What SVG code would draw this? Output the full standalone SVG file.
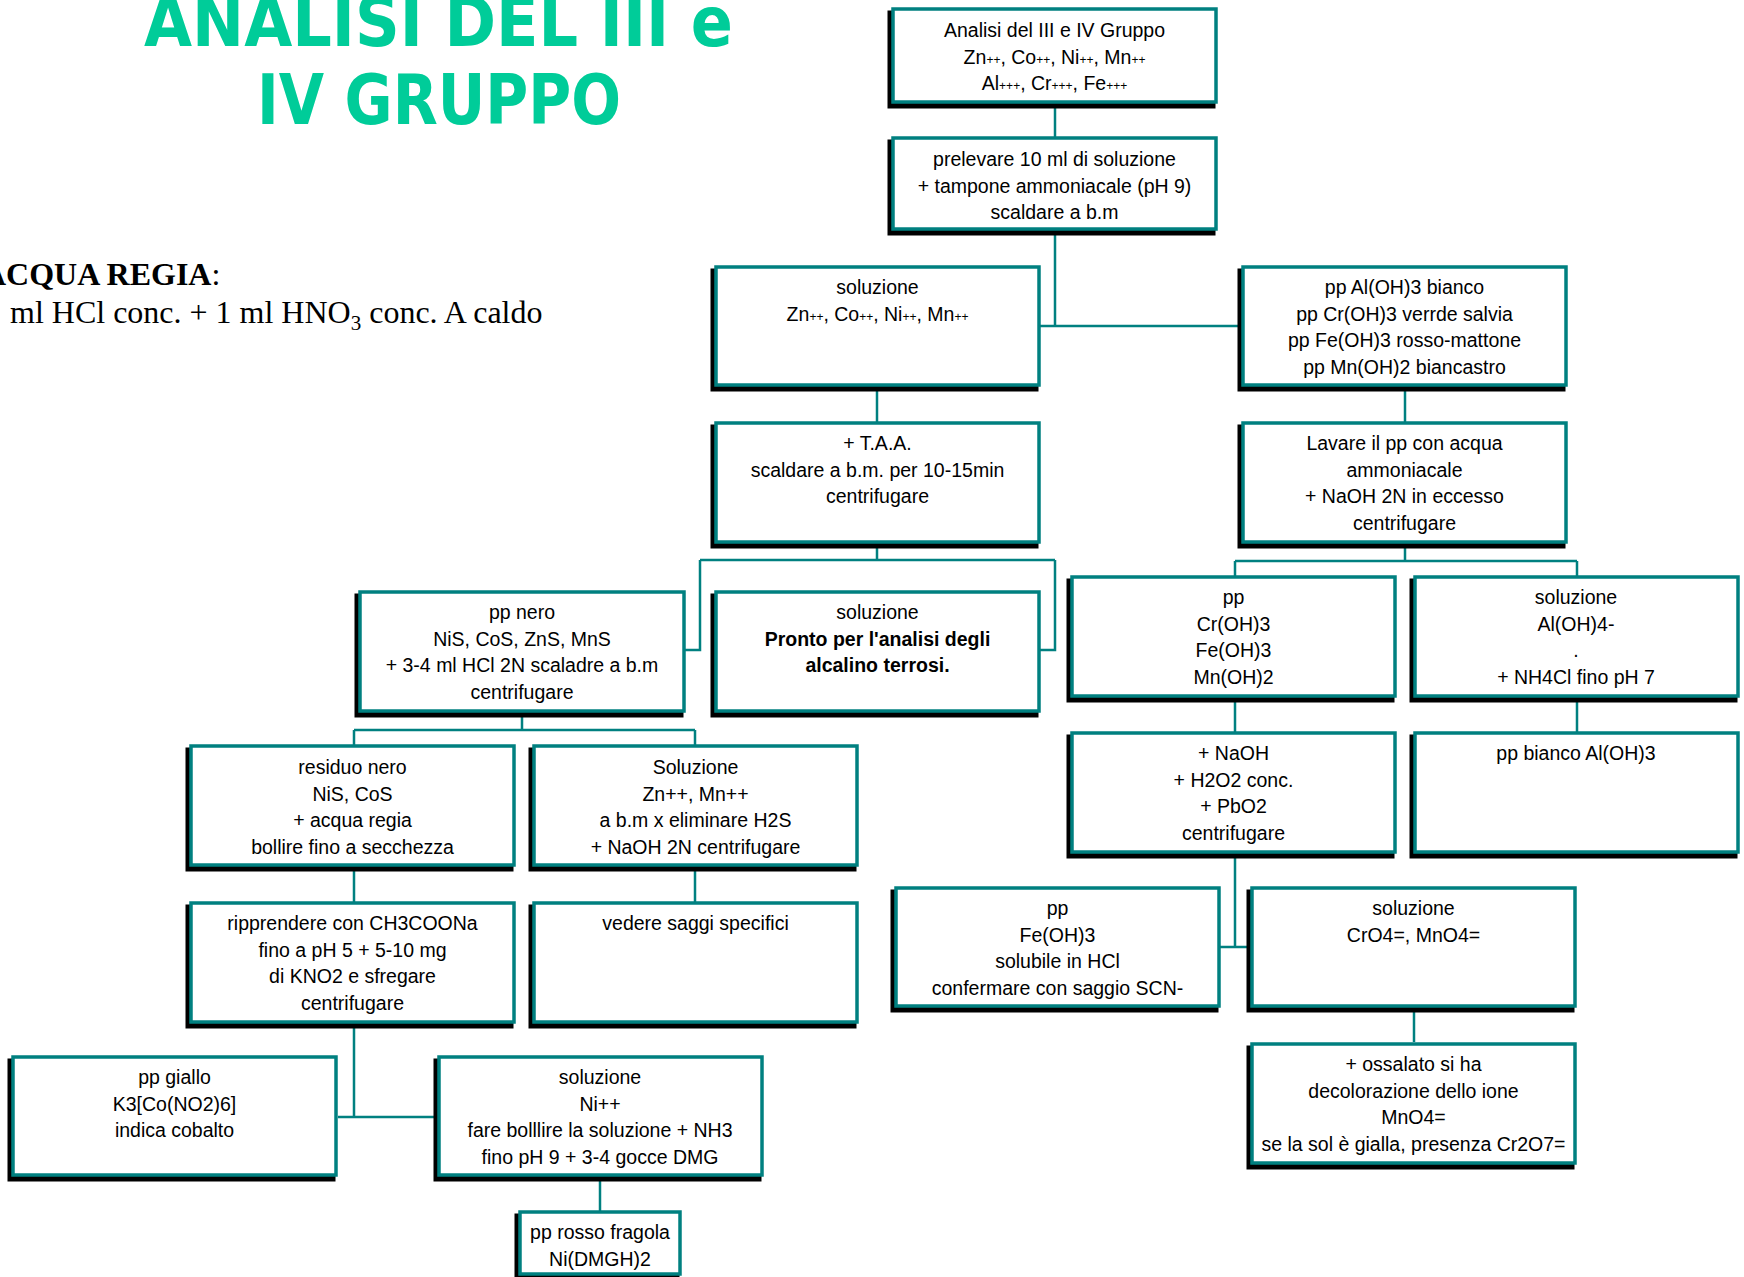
<svg xmlns="http://www.w3.org/2000/svg" width="1744" height="1277" viewBox="0 0 1744 1277">
<style>
.sh{fill:#000;stroke:#000;stroke-width:3}
.bx{fill:#fff;stroke:#008080;stroke-width:3.5}
.t{font-family:"Liberation Sans",Arial,sans-serif;font-size:19.5px;fill:#000;text-anchor:middle}
.s{font-size:12px}
.b{font-weight:bold}
.ln{fill:none;stroke:#008080;stroke-width:2.5}
.title{font-family:"DejaVu Sans",Verdana,sans-serif;font-weight:bold;font-size:70px;fill:#00CC99}
.tm{font-family:"Liberation Serif","Times New Roman",serif;font-size:32px;fill:#000}
</style>
<rect x="0" y="0" width="1744" height="1277" fill="#fff"/>
<g id="title">
<text class="title" x="144" y="46" textLength="589" lengthAdjust="spacingAndGlyphs">ANALISI DEL III e</text>
<text class="title" x="257" y="124" textLength="364" lengthAdjust="spacingAndGlyphs">IV GRUPPO</text>
</g>
<g id="note">
<text class="tm" x="-17" y="285"><tspan font-weight="bold">ACQUA REGIA</tspan>:</text>
<text class="tm" x="10" y="323">ml HCl conc. + 1 ml HNO<tspan font-size="21" dy="7">3</tspan><tspan dy="-7"> conc. A caldo</tspan></text>
</g>
<g id="connectors">
<path class="ln" d="M1055 103V137"/>
<path class="ln" d="M1055 230V326M1040 326H1242"/>
<path class="ln" d="M877 386V422"/>
<path class="ln" d="M1405 386V422"/>
<path class="ln" d="M877 543V560M700 560H1055M700 560V650H685M1055 560V650H1040"/>
<path class="ln" d="M1405 543V561M1235 561H1577M1235 561V576M1577 561V576"/>
<path class="ln" d="M1235 697V732M1577 697V732"/>
<path class="ln" d="M522 712V730M354 730H695M354 730V745M695 730V745"/>
<path class="ln" d="M354 867V902M695 867V902"/>
<path class="ln" d="M354 1023V1117M338 1117H438"/>
<path class="ln" d="M600 1176V1211"/>
<path class="ln" d="M1235 853V947M1220 947H1252"/>
<path class="ln" d="M1414 1007V1042"/>
</g>
<g id="n-analisi">
<rect class="sh" x="889" y="12" width="325" height="95"/>
<rect class="bx" x="893" y="9" width="323" height="93"/>
<text class="t"><tspan x="1054.5" y="37">Analisi del III e IV Gruppo</tspan><tspan x="1054.5" y="63.5">Zn<tspan class="s">++</tspan>, Co<tspan class="s">++</tspan>, Ni<tspan class="s">++</tspan>, Mn<tspan class="s">++</tspan></tspan><tspan x="1054.5" y="90">Al<tspan class="s">+++</tspan>, Cr<tspan class="s">+++</tspan>, Fe<tspan class="s">+++</tspan></tspan></text>
</g>
<g id="n-prelevare">
<rect class="sh" x="889" y="141" width="325" height="93"/>
<rect class="bx" x="893" y="138" width="323" height="91"/>
<text class="t"><tspan x="1054.5" y="166">prelevare 10 ml di soluzione</tspan><tspan x="1054.5" y="192.5">+ tampone ammoniacale (pH 9)</tspan><tspan x="1054.5" y="219">scaldare a b.m</tspan></text>
</g>
<g id="n-sol1">
<rect class="sh" x="712" y="270" width="325" height="120"/>
<rect class="bx" x="716" y="267" width="323" height="118"/>
<text class="t"><tspan x="877.5" y="294">soluzione</tspan><tspan x="877.5" y="320.5">Zn<tspan class="s">++</tspan>, Co<tspan class="s">++</tspan>, Ni<tspan class="s">++</tspan>, Mn<tspan class="s">++</tspan></tspan></text>
</g>
<g id="n-pp1">
<rect class="sh" x="1239" y="270" width="325" height="120"/>
<rect class="bx" x="1243" y="267" width="323" height="118"/>
<text class="t"><tspan x="1404.5" y="294">pp Al(OH)3 bianco</tspan><tspan x="1404.5" y="320.5">pp Cr(OH)3 verrde salvia</tspan><tspan x="1404.5" y="347">pp Fe(OH)3 rosso-mattone</tspan><tspan x="1404.5" y="373.5">pp Mn(OH)2 biancastro</tspan></text>
</g>
<g id="n-taa">
<rect class="sh" x="712" y="426" width="325" height="121"/>
<rect class="bx" x="716" y="423" width="323" height="119"/>
<text class="t"><tspan x="877.5" y="450">+ T.A.A.</tspan><tspan x="877.5" y="476.5">scaldare a b.m. per 10-15min</tspan><tspan x="877.5" y="503">centrifugare</tspan></text>
</g>
<g id="n-lavare">
<rect class="sh" x="1239" y="426" width="325" height="121"/>
<rect class="bx" x="1243" y="423" width="323" height="119"/>
<text class="t"><tspan x="1404.5" y="450">Lavare il pp con acqua</tspan><tspan x="1404.5" y="476.5">ammoniacale</tspan><tspan x="1404.5" y="503">+ NaOH 2N in eccesso</tspan><tspan x="1404.5" y="529.5">centrifugare</tspan></text>
</g>
<g id="n-ppnero">
<rect class="sh" x="356" y="595" width="326" height="121"/>
<rect class="bx" x="360" y="592" width="324" height="119"/>
<text class="t"><tspan x="522" y="619">pp nero</tspan><tspan x="522" y="645.5">NiS, CoS, ZnS, MnS</tspan><tspan x="522" y="672">+ 3-4 ml HCl 2N scaladre a b.m</tspan><tspan x="522" y="698.5">centrifugare</tspan></text>
</g>
<g id="n-pronto">
<rect class="sh" x="712" y="595" width="325" height="121"/>
<rect class="bx" x="716" y="592" width="323" height="119"/>
<text class="t"><tspan x="877.5" y="619">soluzione</tspan><tspan class="b" x="877.5" y="645.5">Pronto per l'analisi degli</tspan><tspan class="b" x="877.5" y="672">alcalino terrosi.</tspan></text>
</g>
<g id="n-ppcr">
<rect class="sh" x="1068" y="580" width="325" height="121"/>
<rect class="bx" x="1072" y="577" width="323" height="119"/>
<text class="t"><tspan x="1233.5" y="604">pp</tspan><tspan x="1233.5" y="630.5">Cr(OH)3</tspan><tspan x="1233.5" y="657">Fe(OH)3</tspan><tspan x="1233.5" y="683.5">Mn(OH)2</tspan></text>
</g>
<g id="n-solal">
<rect class="sh" x="1411" y="580" width="325" height="121"/>
<rect class="bx" x="1415" y="577" width="323" height="119"/>
<text class="t"><tspan x="1576" y="604">soluzione</tspan><tspan x="1576" y="630.5">Al(OH)4-</tspan><tspan x="1576" y="657">.</tspan><tspan x="1576" y="683.5">+ NH4Cl fino pH 7</tspan></text>
</g>
<g id="n-naoh">
<rect class="sh" x="1068" y="736" width="325" height="121"/>
<rect class="bx" x="1072" y="733" width="323" height="119"/>
<text class="t"><tspan x="1233.5" y="760">+ NaOH</tspan><tspan x="1233.5" y="786.5">+ H2O2 conc.</tspan><tspan x="1233.5" y="813">+ PbO2</tspan><tspan x="1233.5" y="839.5">centrifugare</tspan></text>
</g>
<g id="n-ppbianco">
<rect class="sh" x="1411" y="736" width="325" height="121"/>
<rect class="bx" x="1415" y="733" width="323" height="119"/>
<text class="t"><tspan x="1576" y="760">pp bianco Al(OH)3</tspan></text>
</g>
<g id="n-residuo">
<rect class="sh" x="187" y="749" width="325" height="121"/>
<rect class="bx" x="191" y="746" width="323" height="119"/>
<text class="t"><tspan x="352.5" y="774">residuo nero</tspan><tspan x="352.5" y="800.5">NiS, CoS</tspan><tspan x="352.5" y="827">+ acqua regia</tspan><tspan x="352.5" y="853.5">bollire fino a secchezza</tspan></text>
</g>
<g id="n-solzn">
<rect class="sh" x="530" y="749" width="325" height="121"/>
<rect class="bx" x="534" y="746" width="323" height="119"/>
<text class="t"><tspan x="695.5" y="774">Soluzione</tspan><tspan x="695.5" y="800.5">Zn++, Mn++</tspan><tspan x="695.5" y="827">a b.m x eliminare H2S</tspan><tspan x="695.5" y="853.5">+ NaOH 2N centrifugare</tspan></text>
</g>
<g id="n-ripprendere">
<rect class="sh" x="187" y="906" width="325" height="121"/>
<rect class="bx" x="191" y="903" width="323" height="119"/>
<text class="t"><tspan x="352.5" y="930">ripprendere con CH3COONa</tspan><tspan x="352.5" y="956.5">fino a pH 5 + 5-10 mg</tspan><tspan x="352.5" y="983">di KNO2 e sfregare</tspan><tspan x="352.5" y="1009.5">centrifugare</tspan></text>
</g>
<g id="n-vedere">
<rect class="sh" x="530" y="906" width="325" height="121"/>
<rect class="bx" x="534" y="903" width="323" height="119"/>
<text class="t"><tspan x="695.5" y="930">vedere saggi specifici</tspan></text>
</g>
<g id="n-ppgiallo">
<rect class="sh" x="9" y="1060" width="325" height="120"/>
<rect class="bx" x="13" y="1057" width="323" height="118"/>
<text class="t"><tspan x="174.5" y="1084">pp giallo</tspan><tspan x="174.5" y="1110.5">K3[Co(NO2)6]</tspan><tspan x="174.5" y="1137">indica cobalto</tspan></text>
</g>
<g id="n-solni">
<rect class="sh" x="435" y="1060" width="325" height="120"/>
<rect class="bx" x="439" y="1057" width="323" height="118"/>
<text class="t"><tspan x="600" y="1084">soluzione</tspan><tspan x="600" y="1110.5">Ni++</tspan><tspan x="600" y="1137">fare bolllire la soluzione + NH3</tspan><tspan x="600" y="1163.5">fino pH 9 + 3-4 gocce DMG</tspan></text>
</g>
<g id="n-rosso">
<rect class="sh" x="516" y="1215" width="162" height="64"/>
<rect class="bx" x="520" y="1212" width="160" height="62"/>
<text class="t"><tspan x="600" y="1239">pp rosso fragola</tspan><tspan x="600" y="1265.5">Ni(DMGH)2</tspan></text>
</g>
<g id="n-ppfe">
<rect class="sh" x="892" y="891" width="325" height="120"/>
<rect class="bx" x="896" y="888" width="323" height="118"/>
<text class="t"><tspan x="1057.5" y="915">pp</tspan><tspan x="1057.5" y="941.5">Fe(OH)3</tspan><tspan x="1057.5" y="968">solubile in HCl</tspan><tspan x="1057.5" y="994.5">confermare con saggio SCN-</tspan></text>
</g>
<g id="n-solcr">
<rect class="sh" x="1248" y="891" width="325" height="120"/>
<rect class="bx" x="1252" y="888" width="323" height="118"/>
<text class="t"><tspan x="1413.5" y="915">soluzione</tspan><tspan x="1413.5" y="941.5">CrO4=, MnO4=</tspan></text>
</g>
<g id="n-ossalato">
<rect class="sh" x="1248" y="1047" width="325" height="121"/>
<rect class="bx" x="1252" y="1044" width="323" height="119"/>
<text class="t"><tspan x="1413.5" y="1071">+ ossalato si ha</tspan><tspan x="1413.5" y="1097.5">decolorazione dello ione</tspan><tspan x="1413.5" y="1124">MnO4=</tspan><tspan x="1413.5" y="1150.5">se la sol è gialla, presenza Cr2O7=</tspan></text>
</g>
</svg>
